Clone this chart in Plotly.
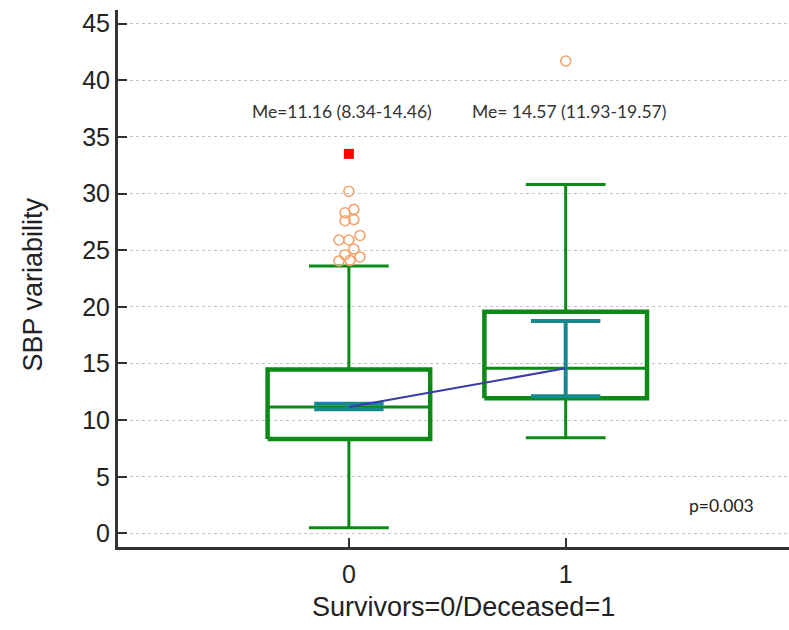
import plotly.graph_objects as go

# ---- data ----
groups = [0, 1]
group_labels = ["0", "1"]
q1 = [8.34, 11.93]
median = [11.16, 14.57]
q3 = [14.46, 19.57]
whisker_low = [0.5, 8.45]
whisker_high = [23.6, 30.8]
ci_low = [10.95, 12.1]
ci_high = [11.45, 18.75]

outliers0 = [30.2, 28.3, 28.6, 27.6, 27.7, 25.9, 25.9, 26.3, 25.1, 24.6, 24.05, 24.1, 24.4]
outliers0_jitter = [0.0, -0.018, 0.023, -0.018, 0.023, -0.046, 0.0, 0.051, 0.023, -0.018, -0.046, 0.005, 0.051]
outliers1 = [41.7]
outliers1_jitter = [0.0]
far_out_x = [0]
far_out_y = [33.5]

median_labels = ["Me=11.16 (8.34-14.46)", "Me= 14.57 (11.93-19.57)"]
p_label = "p=0.003"
y_ticks = [0, 5, 10, 15, 20, 25, 30, 35, 40, 45]

# ---- style ----
GREEN = "#0b8a18"
TEAL = "#16898e"
BLUE = "#3b3aa6"
ORANGE = "#f3a36c"
BOX_HW = 0.375
CAP_HW = 0.184
CI_HW = 0.16

fig = go.Figure()

for g, a, m, b, lo, hi in zip(groups, q1, median, q3, whisker_low, whisker_high):
    # whiskers
    fig.add_trace(go.Scatter(x=[g, g, None, g, g], y=[lo, a, None, b, hi], mode="lines",
                             line=dict(color=GREEN, width=3), hoverinfo="skip", showlegend=False))
    # caps
    fig.add_trace(go.Scatter(x=[g - CAP_HW, g + CAP_HW, None, g - CAP_HW, g + CAP_HW],
                             y=[lo, lo, None, hi, hi], mode="lines",
                             line=dict(color=GREEN, width=3), hoverinfo="skip", showlegend=False))
    # median
    fig.add_trace(go.Scatter(x=[g - BOX_HW, g + BOX_HW], y=[m, m], mode="lines",
                             line=dict(color=GREEN, width=3), hoverinfo="skip", showlegend=False))
    # box
    fig.add_trace(go.Scatter(x=[g - BOX_HW, g + BOX_HW, g + BOX_HW, g - BOX_HW, g - BOX_HW],
                             y=[a, a, b, b, a], mode="lines",
                             line=dict(color=GREEN, width=4.5), hoverinfo="skip", showlegend=False))

# median confidence intervals
for g, lo, hi in zip(groups, ci_low, ci_high):
    fig.add_trace(go.Scatter(x=[g, g, None, g - CI_HW, g + CI_HW, None, g - CI_HW, g + CI_HW],
                             y=[lo, hi, None, lo, lo, None, hi, hi], mode="lines",
                             line=dict(color=TEAL, width=4), hoverinfo="skip", showlegend=False))

# line connecting medians
fig.add_trace(go.Scatter(x=groups, y=median, mode="lines",
                         line=dict(color=BLUE, width=2), hoverinfo="skip", showlegend=False))

# outliers
fig.add_trace(go.Scatter(x=[groups[0] + j for j in outliers0_jitter], y=outliers0, mode="markers",
                         marker=dict(symbol="circle-open", size=10, color=ORANGE, line=dict(width=1.6, color=ORANGE)),
                         showlegend=False))
fig.add_trace(go.Scatter(x=[groups[1] + j for j in outliers1_jitter], y=outliers1, mode="markers",
                         marker=dict(symbol="circle-open", size=10, color=ORANGE, line=dict(width=1.6, color=ORANGE)),
                         showlegend=False))
fig.add_trace(go.Scatter(x=far_out_x, y=far_out_y, mode="markers",
                         marker=dict(symbol="square", size=10, color="#ff0000"), showlegend=False))

ann = []
for g, txt, sh in zip(groups, median_labels, [-7, 3]):
    ann.append(dict(x=g, y=37.2, xref="x", yref="y", text=txt, showarrow=False, xshift=sh,
                    font=dict(family="Lato", size=17.5, color="#333333")))
ann.append(dict(x=1.72, y=2.5, xref="x", yref="y", text=p_label, showarrow=False,
                font=dict(family="Lato", size=17.5, color="#222222")))
ann.append(dict(x=0.528, y=0, xref="x", yref="paper", yanchor="middle", yshift=-60,
                text="Survivors=0/Deceased=1",
                showarrow=False, font=dict(family="Liberation Sans", size=27, color="#222222")))
ann.append(dict(x=0, y=0.5, xref="paper", yref="paper", xanchor="center", yanchor="middle",
                xshift=-86, yshift=-6, textangle=-90,
                text="SBP variability", showarrow=False,
                font=dict(family="Liberation Sans", size=27, color="#222222")))

fig.update_layout(
    width=789, height=630,
    margin=dict(l=118, r=0, t=10, b=83),
    plot_bgcolor="white", paper_bgcolor="white",
    annotations=ann,
    font=dict(family="Liberation Sans", color="#222222"),
)
fig.update_xaxes(range=[-1.065, 2.03], tickvals=groups, ticktext=group_labels,
                 showgrid=False, zeroline=False, showline=True, linewidth=3, linecolor="#333333",
                 ticks="inside", ticklen=9, tickwidth=2, tickcolor="#333333", ticklabelstandoff=3,
                 tickfont=dict(size=25, family="Liberation Sans", color="#222222"))
fig.update_yaxes(range=[-1.2, 46.2], tickvals=y_ticks, ticktext=[str(v) for v in y_ticks],
                 showgrid=True, gridcolor="#c4c4c4", griddash="dot", gridwidth=1,
                 zeroline=False, showline=True, linewidth=3, linecolor="#333333",
                 ticks="inside", ticklen=9, tickwidth=2, tickcolor="#333333",
                 tickfont=dict(size=25, family="Liberation Sans", color="#222222"))

fig.write_html("out.html")
